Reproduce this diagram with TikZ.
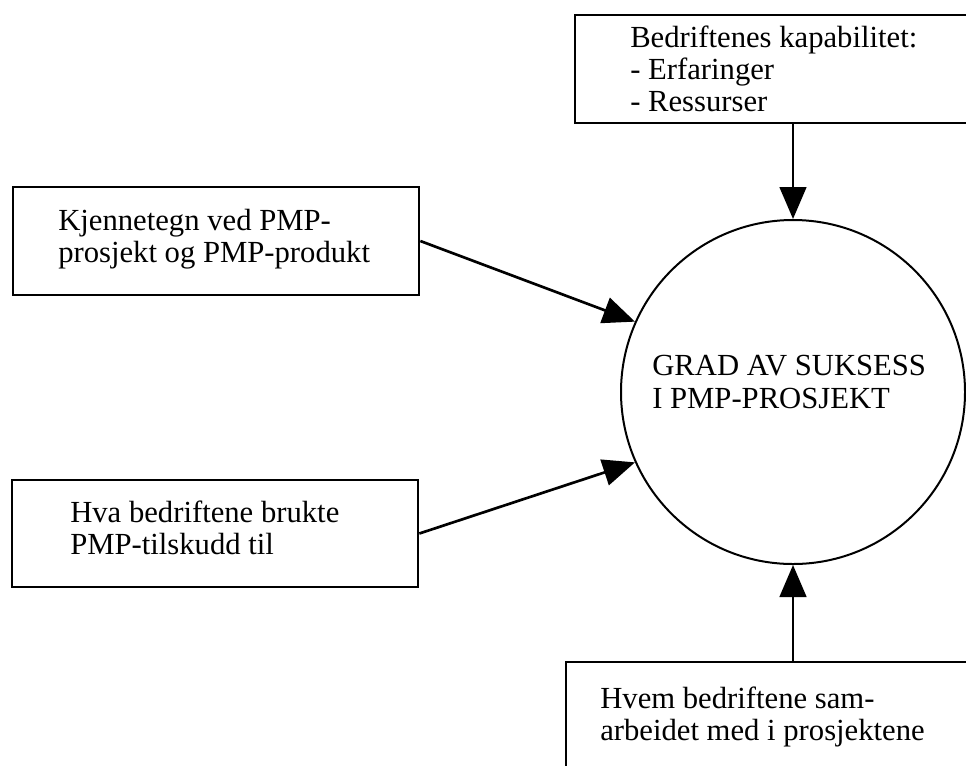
\documentclass[tikz,border=0pt]{standalone}
\usepackage{fontspec}
\setmainfont{Liberation Serif}
\usetikzlibrary{arrows.meta}
\begin{document}
\begin{tikzpicture}[x=0.75pt,y=-0.75pt,
  box/.style={draw, line width=2pt, rectangle, inner sep=0pt},
  boxtext/.style={anchor=north west, inner sep=0pt, align=left,
    font=\fontsize{23}{24}\selectfont},
  link/.style={line width=2pt, -{Triangle[length=24pt,width=20pt]}},
]
\useasboundingbox (0,0) rectangle (966,765);
\clip (0,0) rectangle (966,765);
\fill[white] (0,0) rectangle (966,765);

% input boxes
\node[box, minimum width=318.75pt, minimum height=81pt] (cap) at (787.5,69) {};
\node[boxtext] (captext) at (630,26) {Bedriftenes kapabilitet:\\- Erfaringer\\- Ressurser};

\node[box, minimum width=304.5pt, minimum height=81pt] (kjen) at (216,241) {};
\node[boxtext] (kjentext) at (58,209) {Kjennetegn ved PMP-\\prosjekt og PMP-produkt};

\node[box, minimum width=304.5pt, minimum height=80.25pt] (hva) at (215,533.5) {};
\node[boxtext] (hvatext) at (70,501) {Hva bedriftene brukte\\PMP-tilskudd til};

\node[box, minimum width=325.5pt, minimum height=103.5pt] (hvem) at (783,731) {};
\node[boxtext] (hvemtext) at (600,687) {Hvem bedriftene sam-\\arbeidet med i prosjektene};

% outcome
\node[draw, circle, line width=1.5pt, minimum size=258pt, inner sep=0pt] (goal) at (793,392) {};
\node[boxtext, font=\fontsize{23}{25}\selectfont] (goaltext) at (652,355) {GRAD AV SUKSESS\\I PMP-PROSJEKT};

% influences
\draw[link] (goal.north |- cap.south) -- (goal.north);
\draw[link] (kjen.east) -- (goal.156);
\draw[link] (hva.east) -- (goal.204);
\draw[link] (goal.south |- hvem.north) -- (goal.south);
\end{tikzpicture}
\end{document}
